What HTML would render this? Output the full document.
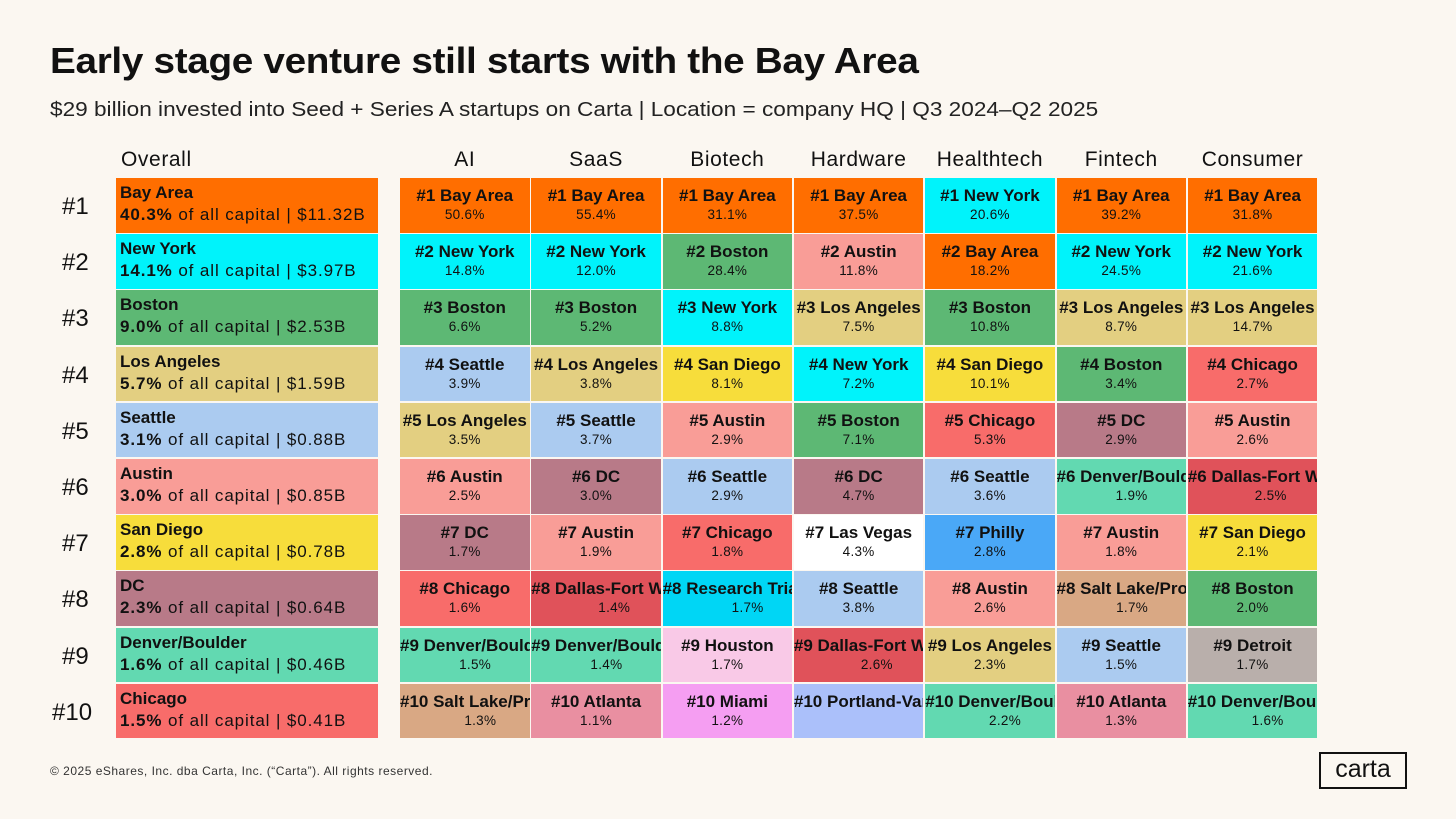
<!DOCTYPE html>
<html><head><meta charset="utf-8">
<style>
body{margin:0;background:#FBF7F1;font-family:"Liberation Sans",sans-serif;color:#111;}
#page{position:relative;width:1456px;height:819px;overflow:hidden;background:#FBF7F1;}
.abs{position:absolute;}
h1{position:absolute;left:50px;top:40px;margin:0;font-size:36px;font-weight:bold;letter-spacing:-0.3px;transform:scaleX(1.075);transform-origin:left top;white-space:nowrap;}
.sub{left:50px;top:99px;font-size:20px;color:#222;transform:scaleX(1.13);transform-origin:left top;white-space:nowrap;}
.hdr{top:148px;font-size:21px;text-align:center;letter-spacing:0.6px;}
.rank{left:62px;font-size:24px;}
.cell{position:absolute;overflow:hidden;}
.ov{padding:4px 0 0 4px;font-size:17px;line-height:22px;white-space:nowrap;}
.ov .l2{letter-spacing:0.9px;}
.inner{width:max-content;margin:0 auto;text-align:center;white-space:nowrap;padding-top:7px;}
.n{font-weight:bold;font-size:17px;line-height:21px;}
.p{font-size:13.5px;line-height:18px;letter-spacing:0.3px;}
</style></head><body>
<div id="page">
<h1>Early stage venture still starts with the Bay Area</h1>
<div class="abs sub">$29 billion invested into Seed + Series A startups on Carta | Location = company HQ | Q3 2024–Q2 2025</div>
<div class="abs" style="left:50px;top:764px;font-size:12px;color:#333;letter-spacing:0.5px">© 2025 eShares, Inc. dba Carta, Inc. (“Carta”). All rights reserved.</div>
<div class="abs" style="left:1319px;top:752px;width:84px;height:33px;border:2.5px solid #111;font-size:25px;text-align:center;line-height:31px">carta</div>
<div id="grid"></div>
</div>
<script>
const colors={"Bay Area":"#FF6E00","New York":"#00F3FB","Boston":"#5DB874","Los Angeles":"#E3CF81","Seattle":"#ABCBF0","Austin":"#F99D97","San Diego":"#F7DD3B","DC":"#B87A88","Denver/Boulder":"#62D9B1","Chicago":"#F86C6A","Dallas-Fort Worth":"#E0525A","Research Triangle":"#00D6F5","Salt Lake/Provo":"#D9A884","Atlanta":"#E98FA1","Houston":"#F9C9E7","Miami":"#F59EF2","Portland-Vancouver":"#ABC0FA","Las Vegas":"#FFFFFF","Philly":"#4AA8F7","Detroit":"#B9AFAB"};
const overallCities=["Bay Area","New York","Boston","Los Angeles","Seattle","Austin","San Diego","DC","Denver/Boulder","Chicago"];
const overallPct=["40.3%","14.1%","9.0%","5.7%","3.1%","3.0%","2.8%","2.3%","1.6%","1.5%"];
const overallAmt=["$11.32B","$3.97B","$2.53B","$1.59B","$0.88B","$0.85B","$0.78B","$0.64B","$0.46B","$0.41B"];
const sectors=["AI","SaaS","Biotech","Hardware","Healthtech","Fintech","Consumer"];
const aiCities=["Bay Area","New York","Boston","Seattle","Los Angeles","Austin","DC","Chicago","Denver/Boulder","Salt Lake/Provo"];
const aiPct=["50.6%","14.8%","6.6%","3.9%","3.5%","2.5%","1.7%","1.6%","1.5%","1.3%"];
const saasCities=["Bay Area","New York","Boston","Los Angeles","Seattle","DC","Austin","Dallas-Fort Worth","Denver/Boulder","Atlanta"];
const saasPct=["55.4%","12.0%","5.2%","3.8%","3.7%","3.0%","1.9%","1.4%","1.4%","1.1%"];
const bioCities=["Bay Area","Boston","New York","San Diego","Austin","Seattle","Chicago","Research Triangle","Houston","Miami"];
const bioPct=["31.1%","28.4%","8.8%","8.1%","2.9%","2.9%","1.8%","1.7%","1.7%","1.2%"];
const hwCities=["Bay Area","Austin","Los Angeles","New York","Boston","DC","Las Vegas","Seattle","Dallas-Fort Worth","Portland-Vancouver"];
const hwPct=["37.5%","11.8%","7.5%","7.2%","7.1%","4.7%","4.3%","3.8%","2.6%",""];
const htCities=["New York","Bay Area","Boston","San Diego","Chicago","Seattle","Philly","Austin","Los Angeles","Denver/Boulder"];
const htPct=["20.6%","18.2%","10.8%","10.1%","5.3%","3.6%","2.8%","2.6%","2.3%","2.2%"];
const ftCities=["Bay Area","New York","Los Angeles","Boston","DC","Denver/Boulder","Austin","Salt Lake/Provo","Seattle","Atlanta"];
const ftPct=["39.2%","24.5%","8.7%","3.4%","2.9%","1.9%","1.8%","1.7%","1.5%","1.3%"];
const conCities=["Bay Area","New York","Los Angeles","Chicago","Austin","Dallas-Fort Worth","San Diego","Boston","Detroit","Denver/Boulder"];
const conPct=["31.8%","21.6%","14.7%","2.7%","2.6%","2.5%","2.1%","2.0%","1.7%","1.6%"];
const sectorCities=[aiCities,saasCities,bioCities,hwCities,htCities,ftCities,conCities];
const sectorPct=[aiPct,saasPct,bioPct,hwPct,htPct,ftPct,conPct];

const page=document.getElementById('page');
const rowTop=i=>178+i*56.2, rowH=54.5;
const colX=j=>400+j*131.3, colW=129.5;
function mk(cls,x,y,w,h,bg){const d=document.createElement('div');d.className=cls;d.style.left=x+'px';d.style.top=y+'px';if(w)d.style.width=w+'px';if(h)d.style.height=h+'px';if(bg)d.style.background=bg;page.appendChild(d);return d;}
let h=mk('abs hdr',116,148,160,0);h.style.textAlign='left';h.style.left='121px';h.textContent='Overall';


sectors.forEach((s,j)=>{const e=mk('abs hdr',colX(j),148,colW,0);e.textContent=s;

});
overallCities.forEach((c,i)=>{
  const r=mk('abs rank',0,rowTop(i)+15);r.style.left=(i==9?52:62)+'px';r.textContent='#'+(i+1);
  
  
  const d=mk('cell ov',116,rowTop(i),258,rowH-4,colors[c]);
  d.innerHTML='<b>'+c+'</b><br><span class="l2"><b>'+overallPct[i]+'</b> of all capital | '+overallAmt[i]+'</span>';
  
  
});
sectors.forEach((s,j)=>{sectorCities[j].forEach((c,i)=>{
  const d=mk('cell',colX(j),rowTop(i),colW,rowH,colors[c]);
  d.innerHTML='<div class="inner"><div class="n">#'+(i+1)+' '+c+'</div><div class="p">'+sectorPct[j][i]+'</div></div>';
  
  
});});
</script>
</body></html>
